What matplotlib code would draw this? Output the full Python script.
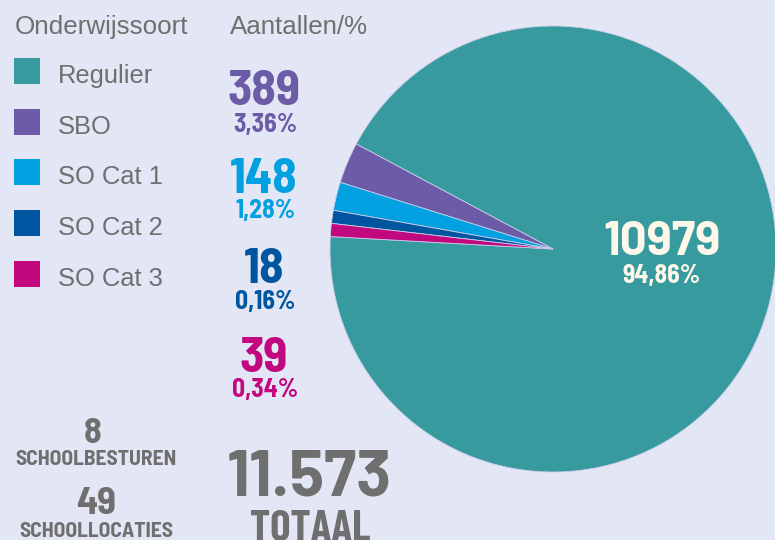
import matplotlib
matplotlib.use("Agg")
import matplotlib.pyplot as plt
from matplotlib.patches import Rectangle
from matplotlib import font_manager

# data
categories = ['Regulier', 'SBO', 'SO Cat 1', 'SO Cat 2', 'SO Cat 3']
counts = [10979, 389, 148, 18, 39]
percentages = [94.86, 3.36, 1.28, 0.16, 0.34]
# slice sizes as drawn in the picture (degrees), small slices are exaggerated
slice_degrees = [335.1, 10.7, 7.4, 3.4, 3.4]
total = 11573
schoolbesturen = 8
schoollocaties = 49

colors = ['#379a9e', '#6c5ba6', '#00a0e1', '#0055a1', '#c1087f']
bg = '#e3e6f5'
grey = '#6f6f6f'
cream = '#fff8ea'


def pick(names):
    for n in names:
        try:
            font_manager.findfont(n, fallback_to_default=False)
            return n
        except Exception:
            pass
    return 'DejaVu Sans'


cond = pick(['Barlow Condensed', 'Archivo Narrow', 'Liberation Sans'])
semi = pick(['Barlow Semi Condensed', 'Barlow Condensed', 'Liberation Sans'])
wide = pick(['Barlow', 'Barlow Semi Condensed', 'Liberation Sans'])
regular = pick(['Liberation Sans', 'DejaVu Sans'])

W, H = 775, 540
fig = plt.figure(figsize=(W / 100, H / 100), dpi=100, facecolor=bg)
ax = fig.add_axes([0, 0, 1, 1])
ax.set_facecolor(bg)


def Y(y):
    return H - y


ax.pie(slice_degrees, colors=colors, startangle=176.8, counterclock=True,
       center=(553, Y(249)), radius=223, frame=True,
       wedgeprops=dict(edgecolor='#c9cde8', linewidth=0.6))
ax.set_xlim(0, W)
ax.set_ylim(0, H)
ax.set_aspect('equal')
ax.axis('off')

# headers
ax.text(15, Y(34), 'Onderwijssoort', fontsize=18.7, family=regular, color=grey, va='baseline')
ax.text(230, Y(34), 'Aantallen/%', fontsize=18.6, family=regular, color=grey, va='baseline')

# legend
for i, (cat, col) in enumerate(zip(categories, colors)):
    yb = 83 + i * 50.7
    ax.add_patch(Rectangle((14, Y(yb + 1)), 26, 26, color=col, lw=0))
    ax.text(58, Y(yb), cat, fontsize=18.4, family=regular, color=grey, va='baseline')


def fmt_pct(p):
    return f"{p:.2f}".replace('.', ',') + '%'


def bold(x, y, s, size, color, family=semi):
    ax.text(x, Y(y), s, fontsize=size, family=family, weight='bold',
            color=color, ha='center', va='baseline')


# numbers for the small categories (baselines)
num_y = [105, 193, 283, 372]
pct_y = [132, 218, 309, 397]
for i in range(1, 5):
    bold(264, num_y[i - 1], str(counts[i]), 36, colors[i])
    bold(265, pct_y[i - 1], fmt_pct(percentages[i]), 18.5, colors[i])

# big slice label
bold(662, 255, str(counts[0]), 34, cream, wide)
bold(662, 283, fmt_pct(percentages[0]), 18.5, cream)

# bottom block
bold(93, 443, str(schoolbesturen), 26, grey)
bold(96, 465, 'SCHOOLBESTUREN', 15.5, grey)
bold(96, 514, str(schoollocaties), 28, grey)
bold(96, 537, 'SCHOOLLOCATIES', 15.5, grey)

total_txt = f"{total:,}".replace(',', '.')
bold(309, 495, total_txt, 46.5, grey, wide)
bold(310, 541, 'TOTAAL', 31, grey, cond)

fig.savefig('out.png', dpi=100, facecolor=bg)
